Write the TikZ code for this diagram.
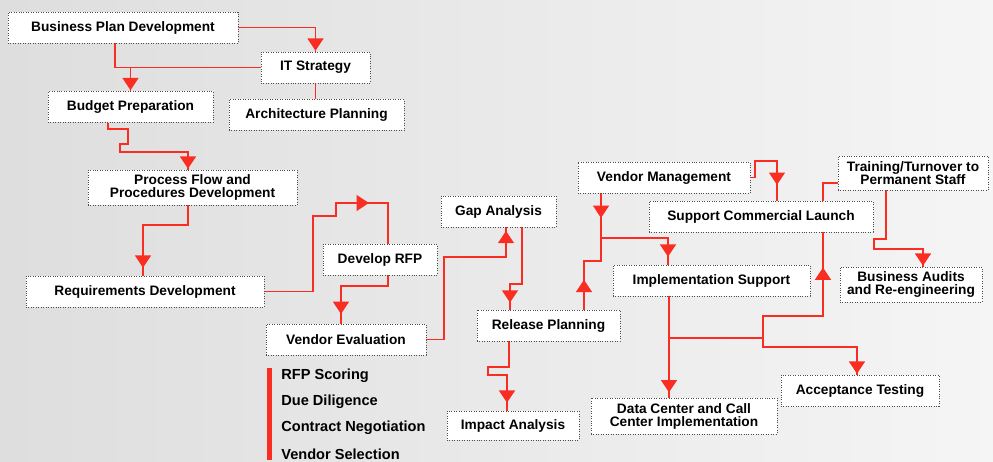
\documentclass[tikz,border=0pt]{standalone}
\usepackage{fontspec}
\setmainfont{Liberation Sans}
\usetikzlibrary{arrows.meta,decorations.markings,backgrounds}
\definecolor{flowred}{RGB}{250,45,35}

\begin{document}
\begin{tikzpicture}[x=0.02cm, y=-0.02cm,
  box/.style = {shape=rectangle, draw=black!70, densely dotted,
    fill=white, align=center, inner sep=1pt, minimum height=0.62cm,
    font=\bfseries\fontsize{7.8}{7.4}\selectfont},
  wire/.style = {draw=flowred, line width=1.1pt},
  tip at/.style = {postaction={decorate, decoration={markings,
    mark=at position #1 with {\arrow[flowred]{Triangle[length=7pt,width=9pt]}}}}},
  tip at/.default = {-0.5pt},
  item/.style = {anchor=west, inner sep=0pt,
    font=\bfseries\fontsize{8.3}{9}\selectfont}]
  \useasboundingbox (0,0) rectangle (993,462);

  % tasks
  \node[box, minimum width=4.6cm] (bpd) at (123,27.5) {Business Plan Development};
  \node[box, minimum width=2.18cm] (it) at (315.5,67.5) {IT Strategy};
  \node[box, minimum width=3.3cm] (budget) at (130.5,107) {Budget Preparation};
  \node[box, minimum width=3.5cm] (arch) at (316.5,115) {Architecture Planning};
  \node[box, minimum width=4.18cm, minimum height=0.7cm] (process) at (192.5,187.5) {Process Flow and\\Procedures Development};
  \node[box, minimum width=4.76cm] (req) at (145,291.5) {Requirements Development};
  \node[box, minimum width=2.28cm] (rfp) at (380,259.5) {Develop RFP};
  \node[box, minimum width=3.2cm] (veval) at (346,339.5) {Vendor Evaluation};
  \node[box, minimum width=2.3cm] (gap) at (498.5,211.5) {Gap Analysis};
  \node[box, minimum width=3.44cm] (vmgmt) at (664,177.5) {Vendor Management};
  \node[box, minimum width=4.48cm] (launch) at (761,216.5) {Support Commercial Launch};
  \node[box, minimum width=3.94cm] (impl) at (711.5,280.5) {Implementation Support};
  \node[box, minimum width=2.86cm] (release) at (548.5,325.5) {Release Planning};
  \node[box, minimum width=3cm, minimum height=0.68cm] (training) at (913,173) {Training/Turnover to\\Permanent Staff};
  \node[box, minimum width=2.84cm, minimum height=0.7cm] (audits) at (911,284.5) {Business Audits\\and Re-engineering};
  \node[box, minimum width=3.16cm] (accept) at (860,390.5) {Acceptance Testing};
  \node[box, minimum width=3.72cm, minimum height=0.72cm] (datacenter) at (684,416) {Data Center and Call\\Center Implementation};
  \node[box, minimum width=2.64cm, minimum height=0.58cm] (impact) at (513,425.5) {Impact Analysis};

  % vendor evaluation steps
  \fill[flowred] (267,368) rectangle (272,460);
  \foreach \txt [count=\i] in {RFP Scoring, Due Diligence, Contract Negotiation, Vendor Selection}
    \node[item] (step\i) at (281,350+26*\i) {\txt};

  \coordinate (fork) at (601,238);
  \coordinate (split) at (669,338);
  \coordinate (hub) at (763,338);

  \begin{pgfonlayer}{background}
  \shade[left color=black!13, right color=black!4] (0,0) rectangle (993,462);
  % planning
  \draw[wire, tip at] (bpd.east) -| (it.north);
  \draw[wire, tip at] (it.west) -| (budget.north);
  \draw[wire] (bpd.south -| 115,0) |- (budget.north |- it.west);
  \draw[wire] (it.south) -- (it.south |- arch.north);
  \draw[wire, tip at] (budget.south -| 108,0) |- (128,129) |- (120,144) |- (188,152) -- (process.north -| 188,0);
  \draw[wire, tip at=-4.5pt] (process.south -| 188,0) |- (143,225) -- (req.north -| 143,0);
  % vendor selection
  \draw[wire, tip at=-34pt] (req.east) -| (313,216) -| (336,203) -| (rfp.north -| 388,0);
  \draw[wire, tip at=-5.5pt] (rfp.south -| 388,0) |- (341,286) -- (veval.north -| 341,0);
  \draw[wire, tip at=-2pt] (veval.east) -| (444,257) -| (gap.south -| 506,0);
  \draw[wire, tip at=-4pt] (gap.south -| 522,0) |- (510,284) -- (release.north -| 510,0);
  \draw[wire, tip at=-4.5pt] (release.south -| 509,0) |- (488,367) |- (507,375) -- (impact.north -| 507,0);
  % implementation
  \draw[wire, tip at=17pt] (release.north -| 584,0) |- (601,261) -- (fork);
  \draw[wire, tip at=14pt, tip at=-4.5pt] (vmgmt.south -| fork) -- (fork) -| (impl.north -| 668,0);
  \draw[wire, tip at=-9pt] (vmgmt.east) -| (755,161) -| (launch.north -| 777,0);
  \draw[wire, tip at=-3pt] (impl.south -| split) -- (datacenter.north -| split);
  \draw[wire] (split) -- (hub);
  \draw[wire, tip at=-20pt] (hub) |- (823,316) -- (launch.south -| 823,0);
  \draw[wire, tip at] (hub) |- (857,347) -- (accept.north -| 857,0);
  \draw[wire] (launch.north -| 823,0) |- (training.west |- 0,183);
  \draw[wire, tip at] (training.south -| 886,0) |- (874,239) |- (923,249) -- (audits.north -| 923,0);
  \end{pgfonlayer}
\end{tikzpicture}
\end{document}
